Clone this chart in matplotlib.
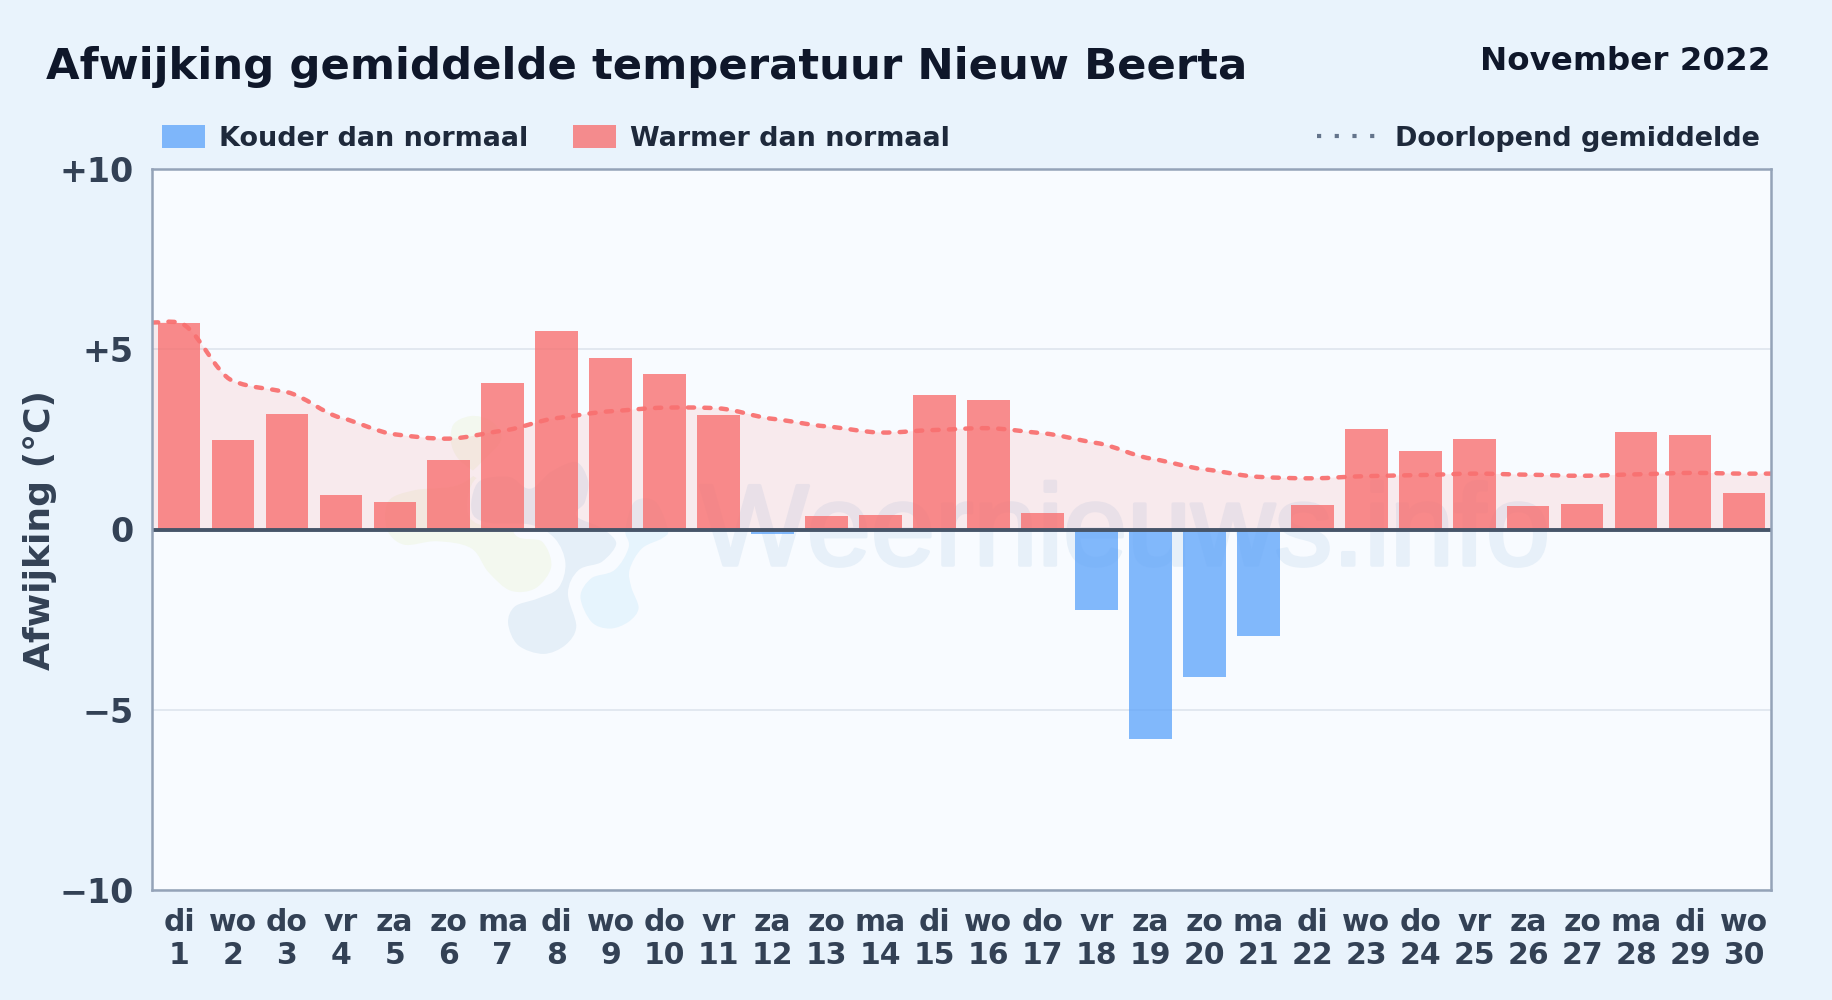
import numpy as np
import matplotlib
matplotlib.use("Agg")
import matplotlib.pyplot as plt
import matplotlib.patheffects as pe
from matplotlib.path import Path
from matplotlib.patches import PathPatch, Patch
from matplotlib.lines import Line2D
from matplotlib.transforms import IdentityTransform

TITLE = "Afwijking gemiddelde temperatuur Nieuw Beerta"
PERIOD = "November 2022"
YLABEL = "Afwijking (°C)"
LEGEND_COLD = "Kouder dan normaal"
LEGEND_WARM = "Warmer dan normaal"
LEGEND_MEAN = "Doorlopend gemiddelde"
WATERMARK = "Weernieuws.info"

days = list(range(1, 31))
weekdays = ["di","wo","do","vr","za","zo","ma","di","wo","do","vr","za","zo","ma","di",
            "wo","do","vr","za","zo","ma","di","wo","do","vr","za","zo","ma","di","wo"]
anomaly = [5.74, 2.47, 3.20, 0.97, 0.76, 1.93, 4.05, 5.50, 4.77, 4.32,
           3.19, -0.12, 0.38, 0.40, 3.72, 3.60, 0.45, -2.23, -5.81, -4.10,
           -2.96, 0.67, 2.80, 2.17, 2.50, 0.66, 0.72, 2.70, 2.63, 1.00]
running_mean = [5.74, 4.12, 3.81, 3.10, 2.64, 2.52, 2.74, 3.09, 3.28, 3.38,
                3.36, 3.07, 2.86, 2.69, 2.76, 2.81, 2.67, 2.40, 1.97, 1.67,
                1.46, 1.42, 1.48, 1.51, 1.55, 1.52, 1.49, 1.53, 1.57, 1.55]
yticks = [-10, -5, 0, 5, 10]
yticklabels = ["\u221210", "\u22125", "0", "+5", "+10"]

BG = "#e9f3fc"; PANEL = "#f8fbff"; BORDER = "#94a3b8"; GRID = "#e2e8f0"
INK = "#0f172a"; TXT = "#334155"; LEG = "#1e293b"; ZERO = "#475569"
RED = "#f87171"; BLUE = "#60a5fa"
RED_A = 0.8; BLUE_A = 0.78

W, H = 1832, 1000
plt.rcParams["font.family"] = ["DejaVu Sans"]
plt.rcParams["font.weight"] = "bold"
fig = plt.figure(figsize=(W/100, H/100), dpi=100, facecolor=BG)

L, R, T, B = 152, 1771, 169, 890
ax = fig.add_axes([L/W, 1-B/H, (R-L)/W, (B-T)/H], facecolor=PANEL)
ax.set_xlim(0.5, 30.5); ax.set_ylim(-10, 10)

# background logo, outlined in figure pixels
def blob(pts, color, z):
    p = np.array(pts, float)/3 + [370, 400]
    n = len(p)
    verts = [p[0]]; codes = [Path.MOVETO]
    for i in range(n):
        p0, p1, p2, p3 = p[i-1], p[i], p[(i+1) % n], p[(i+2) % n]
        verts += [p1+(p2-p0)/6, p2-(p3-p1)/6, p2]
        codes += [Path.CURVE4]*3
    verts = np.array(verts)/[W, H]
    verts[:, 1] = 1-verts[:, 1]
    ax.add_patch(PathPatch(Path(verts, codes), transform=fig.transFigure, fc=color,
                           ec=PANEL, lw=3, zorder=z))

blob([(240,80),(300,42),(370,60),(400,120),(340,190),(290,235),(240,255),(130,265),(50,300),(45,390),
      (100,440),(200,430),(300,450),(350,520),(420,578),(500,570),(550,500),(520,420),(440,400),(420,300),(260,180)],
     "#f3f8ef", 1.0)
blob([(305,350),(300,290),(330,235),(420,225),(480,260),(540,210),(620,180),(660,240),(650,310),(625,345),(700,380),
      (745,430),(700,490),(630,515),(600,580),(625,680),(590,740),(520,768),(440,740),(408,670),(430,615),(500,590),
      (560,560),(580,490),(550,420),(480,380),(360,375)],
     "#e5eff8", 1.1)
blob([(625,590),(660,530),(730,505),(770,440),(760,390),(790,300),(860,300),(900,390),(880,420),(820,450),
      (785,510),(790,560),(812,625),(780,670),(720,692),(660,670)],
     "#e6f4fd", 1.2)
ax.text(700, H-565, WATERMARK, transform=IdentityTransform(), ha="left", va="baseline",
        fontsize=83, fontweight="normal", family="Liberation Sans", color="#e7f0f9", zorder=1.5,
        path_effects=[pe.withStroke(linewidth=2.5, foreground="#e7f0f9")])

ax.set_yticks(yticks); ax.set_yticklabels(yticklabels)
ax.set_xticks(days); ax.set_xticklabels([f"{w}\n{d}" for w, d in zip(weekdays, days)])
ax.tick_params(axis="y", length=0, labelsize=24, labelcolor=TXT, pad=13)
ax.tick_params(axis="x", length=0, labelsize=21.5, labelcolor=TXT, pad=13)
for lab in ax.get_xticklabels():
    lab.set_linespacing(1.18)
ax.set_axisbelow(True)
ax.grid(axis="y", color=GRID, lw=1.4, zorder=0)
ax.xaxis.grid(False)
for s in ax.spines.values():
    s.set_color(BORDER); s.set_linewidth(1.8); s.set_zorder(6)
ax.set_ylabel(YLABEL, fontsize=26, color=TXT, fontweight="bold")
ax.yaxis.set_label_coords((57-L)/(R-L), 0.5)

for d, v in zip(days, anomaly):
    ax.bar(d, v, width=0.79, color=BLUE if v < 0 else RED, alpha=BLUE_A if v < 0 else RED_A,
           linewidth=0, zorder=2)

# smooth running mean, extended flat to both panel edges
xs = np.array([0.5] + days + [30.5], float)
ys = np.array([running_mean[0]] + running_mean + [running_mean[-1]], float)
k = 0.62
tan = np.gradient(ys, xs)*k
verts = [(xs[0], ys[0])]; codes = [Path.MOVETO]
for i in range(len(xs)-1):
    h = xs[i+1]-xs[i]
    verts += [(xs[i]+h/3, ys[i]+tan[i]*h/3), (xs[i+1]-h/3, ys[i+1]-tan[i+1]*h/3), (xs[i+1], ys[i+1])]
    codes += [Path.CURVE4]*3
ax.add_patch(PathPatch(Path(verts + [(xs[-1], 0), (xs[0], 0), (xs[0], ys[0])],
                            codes + [Path.LINETO, Path.LINETO, Path.CLOSEPOLY]),
                       fc=RED, alpha=0.12, ec="none", zorder=1.8))
ax.add_patch(PathPatch(Path(verts, codes), fill=False, ec=RED, lw=3.2,
                       linestyle=(0, (1.4, 2.3)), capstyle="round", alpha=0.95, zorder=4))
ax.axhline(0, color=ZERO, lw=2.8, zorder=5)

fig.text(46/W, 1-67/H, TITLE, fontsize=31.2, color=INK, fontweight="bold", ha="left", va="center")
fig.text(1771/W, 1-62/H, PERIOD, fontsize=23.4, color=INK, fontweight="bold", ha="right", va="center")

lp = dict(frameon=False, fontsize=19.45, labelcolor=LEG, handlelength=1.6, handleheight=0.9,
          borderpad=0, borderaxespad=0, handletextpad=0.52)
fig.legend(handles=[Patch(fc=BLUE, alpha=BLUE_A, lw=0, label=LEGEND_COLD),
                    Patch(fc=RED, alpha=RED_A, lw=0, label=LEGEND_WARM)],
           loc="center left", bbox_to_anchor=(162/W, 1-138.5/H), ncol=2, columnspacing=1.65, **lp)
fig.legend(handles=[Line2D([], [], color="#64748b", lw=3.0, linestyle=(0, (1, 3.25)), label=LEGEND_MEAN)],
           loc="center right", bbox_to_anchor=(1760/W, 1-138.5/H), **{**lp, "handlelength": 2.2, "handletextpad": 0.68})
fig.savefig("out.png", dpi=100, facecolor=fig.get_facecolor())
